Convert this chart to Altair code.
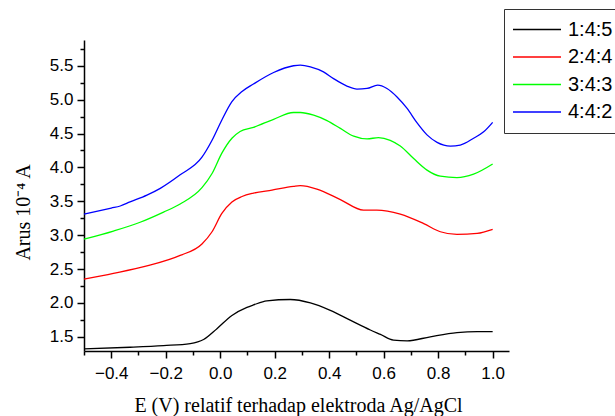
import altair as alt
import pandas as pd

series_names = ["1:4:5", "2:4:4", "3:4:3", "4:4:2"]
series_colors = ["#000000", "#ff0000", "#00ff00", "#0000ff"]

x_145 = [-0.5, -0.331, -0.208, -0.110, -0.061, -0.012, 0.043, 0.098, 0.122, 0.171, 0.257,
         0.331, 0.404, 0.477, 0.551, 0.588, 0.636, 0.686, 0.771, 0.869, 0.943, 1.0]
y_145 = [1.32, 1.345, 1.37, 1.40, 1.46, 1.62, 1.815, 1.935, 1.97, 2.03, 2.05,
         2.00, 1.89, 1.745, 1.60, 1.535, 1.45, 1.44, 1.50, 1.56, 1.575, 1.575]

x_244 = [-0.5, -0.392, -0.269, -0.147, -0.067, -0.030, 0.006, 0.043, 0.080, 0.122,
         0.19, 0.269, 0.294, 0.355, 0.441, 0.526, 0.575, 0.661, 0.747, 0.808, 0.869, 0.943, 1.0]
y_244 = [2.35, 2.435, 2.545, 2.70, 2.87, 3.05, 3.32, 3.49, 3.57, 3.62,
         3.665, 3.72, 3.73, 3.68, 3.525, 3.37, 3.37, 3.31, 3.17, 3.05, 3.01, 3.025, 3.085]

x_343 = [-0.5, -0.392, -0.294, -0.208, -0.147, -0.067, -0.030, 0.006, 0.043, 0.073,
         0.122, 0.196, 0.269, 0.294, 0.343, 0.392, 0.441, 0.490, 0.539, 0.581, 0.624, 0.661,
         0.710, 0.759, 0.808, 0.869, 0.930, 1.0]
y_343 = [2.94, 3.06, 3.19, 3.34, 3.46, 3.70, 3.91, 4.21, 4.43, 4.53,
         4.59, 4.71, 4.81, 4.81, 4.77, 4.69, 4.575, 4.46, 4.42, 4.44, 4.40, 4.315,
         4.13, 3.96, 3.87, 3.85, 3.90, 4.05]

x_442 = [-0.5, -0.4, -0.367, -0.331, -0.269, -0.22, -0.147, -0.067, -0.030, 0.006,
         0.043, 0.080, 0.122, 0.196, 0.269, 0.294, 0.331, 0.379, 0.416, 0.465, 0.502, 0.539,
         0.578, 0.612, 0.649, 0.686, 0.722, 0.759, 0.796, 0.845, 0.881, 0.93, 0.967, 1.0]
y_442 = [3.31, 3.40, 3.43, 3.49, 3.59, 3.69, 3.89, 4.15, 4.40, 4.70,
         4.97, 5.12, 5.23, 5.40, 5.50, 5.51, 5.485, 5.41, 5.31, 5.20, 5.155, 5.165,
         5.215, 5.165, 5.04, 4.87, 4.66, 4.48, 4.37, 4.315, 4.33, 4.43, 4.525, 4.665]

x_ticks = [-0.5, -0.4, -0.3, -0.2, -0.1, 0.0, 0.1, 0.2, 0.3, 0.4, 0.5, 0.6, 0.7, 0.8, 0.9, 1.0]
y_ticks = [1.5, 1.75, 2.0, 2.25, 2.5, 2.75, 3.0, 3.25, 3.5, 3.75, 4.0, 4.25, 4.5, 4.75,
           5.0, 5.25, 5.5, 5.75]

xs = [x_145, x_244, x_343, x_442]
ys = [y_145, y_244, y_343, y_442]
rows = []
for name, xv, yv in zip(series_names, xs, ys):
    for a, b in zip(xv, yv):
        rows.append({"E": a, "I": b, "series": name})
df = pd.DataFrame(rows)

x_major = "abs(datum.value*5 - round(datum.value*5)) < 0.001"
y_major = "abs(datum.value*2 - round(datum.value*2)) < 0.001"

chart = alt.Chart(df).mark_line(strokeWidth=1.3, interpolate="monotone").encode(
    x=alt.X("E:Q",
            scale=alt.Scale(domain=[-0.5, 1.06], nice=False, zero=False),
            axis=alt.Axis(
                values=x_ticks,
                title="E (V) relatif terhadap elektroda Ag/AgCl",
                titleFont="Liberation Serif", titleFontSize=20, titleFontWeight="normal",
                titleColor="#000000", titleBaseline="alphabetic", titleY=60, titleX=214,
                labelFont="Liberation Sans", labelFontSize=17, labelColor="#000000",
                labelExpr=f"({x_major}) ? format(datum.value, '.1f') : ''",
                labelPadding=7, labelFlush=False, labelOverlap=False,
                tickSize={"condition": {"test": x_major, "value": 7}, "value": 4},
                tickColor="#000000", tickWidth=1.5,
                domainColor="#000000", domainWidth=1.5, grid=False,
            )),
    y=alt.Y("I:Q",
            scale=alt.Scale(domain=[1.29, 5.88], nice=False, zero=False),
            axis=alt.Axis(
                values=y_ticks,
                title="Arus 10\u207b\u2074 A",
                titleFont="Liberation Serif", titleFontSize=20, titleFontWeight="normal",
                titleColor="#000000", titleBaseline="middle", titleAngle=-90,
                titleX=-61, titleY=172,
                labelFont="Liberation Sans", labelFontSize=17, labelColor="#000000",
                labelExpr=f"({y_major}) ? format(datum.value, '.1f') : ''",
                labelPadding=4, labelFlush=False, labelOverlap=False,
                tickSize={"condition": {"test": y_major, "value": 7}, "value": 4},
                tickColor="#000000", tickWidth=1.5,
                domainColor="#000000", domainWidth=1.5, grid=False,
            )),
    color=alt.Color("series:N",
                    scale=alt.Scale(domain=series_names, range=series_colors),
                    legend=alt.Legend(
                        title=None, orient="none", legendX=420, legendY=-31,
                        symbolType="stroke", symbolSize=2304, symbolStrokeWidth=1.3,
                        labelFont="Liberation Sans", labelFontSize=20, labelColor="#000000",
                        labelOffset=6, padding=8, strokeColor="#333333",
                        fillColor="#ffffff", rowPadding=2.5, clipHeight=25,
                    )),
).properties(
    width=425, height=311,
    padding={"left": 84, "top": 40, "right": 106, "bottom": 65},
    autosize=alt.AutoSizeParams(type="none"),
).configure_view(stroke=None)

chart.save("out.html", embed_options={"renderer": "svg", "actions": False})
